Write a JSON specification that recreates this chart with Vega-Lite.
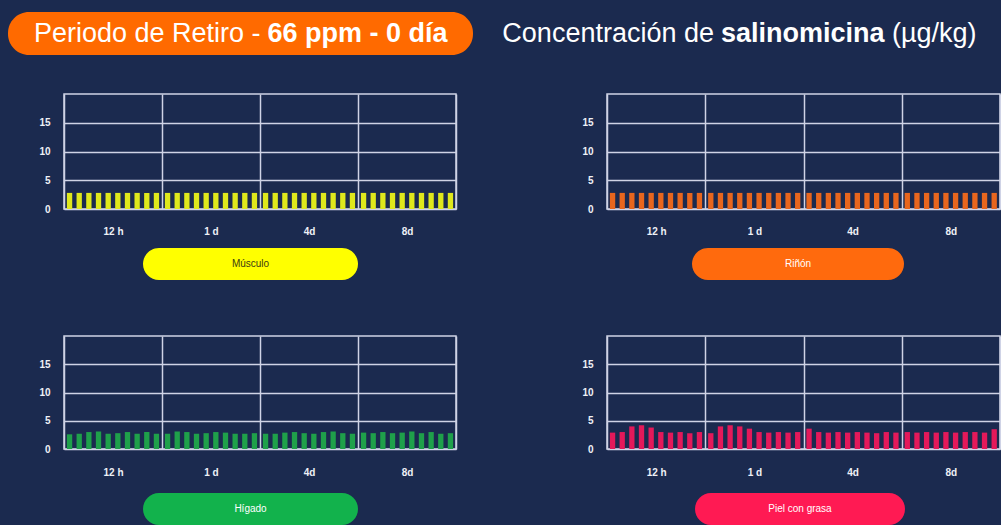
{
  "$schema": "https://vega.github.io/schema/vega-lite/v6.json",
  "background": "#1b2a4f",
  "padding": {"left": 8, "top": 12, "right": 0, "bottom": 0},
  "config": {"font": "Liberation Sans", "view": {"stroke": null}},
  "datasets": {
    "conc": [
      {"tejido":"Músculo","periodo":"12 h","muestra":1,"valor":2.8},{"tejido":"Músculo","periodo":"12 h","muestra":2,"valor":2.8},{"tejido":"Músculo","periodo":"12 h","muestra":3,"valor":2.8},{"tejido":"Músculo","periodo":"12 h","muestra":4,"valor":2.8},{"tejido":"Músculo","periodo":"12 h","muestra":5,"valor":2.8},{"tejido":"Músculo","periodo":"12 h","muestra":6,"valor":2.8},{"tejido":"Músculo","periodo":"12 h","muestra":7,"valor":2.8},{"tejido":"Músculo","periodo":"12 h","muestra":8,"valor":2.8},{"tejido":"Músculo","periodo":"12 h","muestra":9,"valor":2.8},{"tejido":"Músculo","periodo":"12 h","muestra":10,"valor":2.8},
      {"tejido":"Músculo","periodo":"1 d","muestra":1,"valor":2.8},{"tejido":"Músculo","periodo":"1 d","muestra":2,"valor":2.8},{"tejido":"Músculo","periodo":"1 d","muestra":3,"valor":2.8},{"tejido":"Músculo","periodo":"1 d","muestra":4,"valor":2.8},{"tejido":"Músculo","periodo":"1 d","muestra":5,"valor":2.8},{"tejido":"Músculo","periodo":"1 d","muestra":6,"valor":2.8},{"tejido":"Músculo","periodo":"1 d","muestra":7,"valor":2.8},{"tejido":"Músculo","periodo":"1 d","muestra":8,"valor":2.8},{"tejido":"Músculo","periodo":"1 d","muestra":9,"valor":2.8},{"tejido":"Músculo","periodo":"1 d","muestra":10,"valor":2.8},
      {"tejido":"Músculo","periodo":"4d","muestra":1,"valor":2.8},{"tejido":"Músculo","periodo":"4d","muestra":2,"valor":2.8},{"tejido":"Músculo","periodo":"4d","muestra":3,"valor":2.8},{"tejido":"Músculo","periodo":"4d","muestra":4,"valor":2.8},{"tejido":"Músculo","periodo":"4d","muestra":5,"valor":2.8},{"tejido":"Músculo","periodo":"4d","muestra":6,"valor":2.8},{"tejido":"Músculo","periodo":"4d","muestra":7,"valor":2.8},{"tejido":"Músculo","periodo":"4d","muestra":8,"valor":2.8},{"tejido":"Músculo","periodo":"4d","muestra":9,"valor":2.8},{"tejido":"Músculo","periodo":"4d","muestra":10,"valor":2.8},
      {"tejido":"Músculo","periodo":"8d","muestra":1,"valor":2.8},{"tejido":"Músculo","periodo":"8d","muestra":2,"valor":2.8},{"tejido":"Músculo","periodo":"8d","muestra":3,"valor":2.8},{"tejido":"Músculo","periodo":"8d","muestra":4,"valor":2.8},{"tejido":"Músculo","periodo":"8d","muestra":5,"valor":2.8},{"tejido":"Músculo","periodo":"8d","muestra":6,"valor":2.8},{"tejido":"Músculo","periodo":"8d","muestra":7,"valor":2.8},{"tejido":"Músculo","periodo":"8d","muestra":8,"valor":2.8},{"tejido":"Músculo","periodo":"8d","muestra":9,"valor":2.8},{"tejido":"Músculo","periodo":"8d","muestra":10,"valor":2.8},
      {"tejido":"Riñón","periodo":"12 h","muestra":1,"valor":2.8},{"tejido":"Riñón","periodo":"12 h","muestra":2,"valor":2.8},{"tejido":"Riñón","periodo":"12 h","muestra":3,"valor":2.8},{"tejido":"Riñón","periodo":"12 h","muestra":4,"valor":2.8},{"tejido":"Riñón","periodo":"12 h","muestra":5,"valor":2.8},{"tejido":"Riñón","periodo":"12 h","muestra":6,"valor":2.8},{"tejido":"Riñón","periodo":"12 h","muestra":7,"valor":2.8},{"tejido":"Riñón","periodo":"12 h","muestra":8,"valor":2.8},{"tejido":"Riñón","periodo":"12 h","muestra":9,"valor":2.8},{"tejido":"Riñón","periodo":"12 h","muestra":10,"valor":2.8},
      {"tejido":"Riñón","periodo":"1 d","muestra":1,"valor":2.8},{"tejido":"Riñón","periodo":"1 d","muestra":2,"valor":2.8},{"tejido":"Riñón","periodo":"1 d","muestra":3,"valor":2.8},{"tejido":"Riñón","periodo":"1 d","muestra":4,"valor":2.8},{"tejido":"Riñón","periodo":"1 d","muestra":5,"valor":2.8},{"tejido":"Riñón","periodo":"1 d","muestra":6,"valor":2.8},{"tejido":"Riñón","periodo":"1 d","muestra":7,"valor":2.8},{"tejido":"Riñón","periodo":"1 d","muestra":8,"valor":2.8},{"tejido":"Riñón","periodo":"1 d","muestra":9,"valor":2.8},{"tejido":"Riñón","periodo":"1 d","muestra":10,"valor":2.8},
      {"tejido":"Riñón","periodo":"4d","muestra":1,"valor":2.8},{"tejido":"Riñón","periodo":"4d","muestra":2,"valor":2.8},{"tejido":"Riñón","periodo":"4d","muestra":3,"valor":2.8},{"tejido":"Riñón","periodo":"4d","muestra":4,"valor":2.8},{"tejido":"Riñón","periodo":"4d","muestra":5,"valor":2.8},{"tejido":"Riñón","periodo":"4d","muestra":6,"valor":2.8},{"tejido":"Riñón","periodo":"4d","muestra":7,"valor":2.8},{"tejido":"Riñón","periodo":"4d","muestra":8,"valor":2.8},{"tejido":"Riñón","periodo":"4d","muestra":9,"valor":2.8},{"tejido":"Riñón","periodo":"4d","muestra":10,"valor":2.8},
      {"tejido":"Riñón","periodo":"8d","muestra":1,"valor":2.8},{"tejido":"Riñón","periodo":"8d","muestra":2,"valor":2.8},{"tejido":"Riñón","periodo":"8d","muestra":3,"valor":2.8},{"tejido":"Riñón","periodo":"8d","muestra":4,"valor":2.8},{"tejido":"Riñón","periodo":"8d","muestra":5,"valor":2.8},{"tejido":"Riñón","periodo":"8d","muestra":6,"valor":2.8},{"tejido":"Riñón","periodo":"8d","muestra":7,"valor":2.8},{"tejido":"Riñón","periodo":"8d","muestra":8,"valor":2.8},{"tejido":"Riñón","periodo":"8d","muestra":9,"valor":2.8},{"tejido":"Riñón","periodo":"8d","muestra":10,"valor":2.8},
      {"tejido":"Hígado","periodo":"12 h","muestra":1,"valor":2.6},{"tejido":"Hígado","periodo":"12 h","muestra":2,"valor":2.7},{"tejido":"Hígado","periodo":"12 h","muestra":3,"valor":3.0},{"tejido":"Hígado","periodo":"12 h","muestra":4,"valor":3.1},{"tejido":"Hígado","periodo":"12 h","muestra":5,"valor":2.7},{"tejido":"Hígado","periodo":"12 h","muestra":6,"valor":2.8},{"tejido":"Hígado","periodo":"12 h","muestra":7,"valor":3.0},{"tejido":"Hígado","periodo":"12 h","muestra":8,"valor":2.7},{"tejido":"Hígado","periodo":"12 h","muestra":9,"valor":3.0},{"tejido":"Hígado","periodo":"12 h","muestra":10,"valor":2.7},
      {"tejido":"Hígado","periodo":"1 d","muestra":1,"valor":2.7},{"tejido":"Hígado","periodo":"1 d","muestra":2,"valor":3.1},{"tejido":"Hígado","periodo":"1 d","muestra":3,"valor":3.0},{"tejido":"Hígado","periodo":"1 d","muestra":4,"valor":2.7},{"tejido":"Hígado","periodo":"1 d","muestra":5,"valor":2.8},{"tejido":"Hígado","periodo":"1 d","muestra":6,"valor":3.0},{"tejido":"Hígado","periodo":"1 d","muestra":7,"valor":2.9},{"tejido":"Hígado","periodo":"1 d","muestra":8,"valor":2.7},{"tejido":"Hígado","periodo":"1 d","muestra":9,"valor":2.7},{"tejido":"Hígado","periodo":"1 d","muestra":10,"valor":2.8},
      {"tejido":"Hígado","periodo":"4d","muestra":1,"valor":2.7},{"tejido":"Hígado","periodo":"4d","muestra":2,"valor":2.7},{"tejido":"Hígado","periodo":"4d","muestra":3,"valor":2.9},{"tejido":"Hígado","periodo":"4d","muestra":4,"valor":3.0},{"tejido":"Hígado","periodo":"4d","muestra":5,"valor":2.8},{"tejido":"Hígado","periodo":"4d","muestra":6,"valor":2.7},{"tejido":"Hígado","periodo":"4d","muestra":7,"valor":3.0},{"tejido":"Hígado","periodo":"4d","muestra":8,"valor":3.1},{"tejido":"Hígado","periodo":"4d","muestra":9,"valor":2.8},{"tejido":"Hígado","periodo":"4d","muestra":10,"valor":2.7},
      {"tejido":"Hígado","periodo":"8d","muestra":1,"valor":2.9},{"tejido":"Hígado","periodo":"8d","muestra":2,"valor":2.8},{"tejido":"Hígado","periodo":"8d","muestra":3,"valor":3.0},{"tejido":"Hígado","periodo":"8d","muestra":4,"valor":2.8},{"tejido":"Hígado","periodo":"8d","muestra":5,"valor":2.9},{"tejido":"Hígado","periodo":"8d","muestra":6,"valor":3.1},{"tejido":"Hígado","periodo":"8d","muestra":7,"valor":2.8},{"tejido":"Hígado","periodo":"8d","muestra":8,"valor":3.0},{"tejido":"Hígado","periodo":"8d","muestra":9,"valor":2.7},{"tejido":"Hígado","periodo":"8d","muestra":10,"valor":2.8},
      {"tejido":"Piel con grasa","periodo":"12 h","muestra":1,"valor":2.9},{"tejido":"Piel con grasa","periodo":"12 h","muestra":2,"valor":3.0},{"tejido":"Piel con grasa","periodo":"12 h","muestra":3,"valor":4.0},{"tejido":"Piel con grasa","periodo":"12 h","muestra":4,"valor":4.2},{"tejido":"Piel con grasa","periodo":"12 h","muestra":5,"valor":3.8},{"tejido":"Piel con grasa","periodo":"12 h","muestra":6,"valor":3.0},{"tejido":"Piel con grasa","periodo":"12 h","muestra":7,"valor":2.9},{"tejido":"Piel con grasa","periodo":"12 h","muestra":8,"valor":3.0},{"tejido":"Piel con grasa","periodo":"12 h","muestra":9,"valor":2.8},{"tejido":"Piel con grasa","periodo":"12 h","muestra":10,"valor":3.0},
      {"tejido":"Piel con grasa","periodo":"1 d","muestra":1,"valor":2.8},{"tejido":"Piel con grasa","periodo":"1 d","muestra":2,"valor":4.0},{"tejido":"Piel con grasa","periodo":"1 d","muestra":3,"valor":4.2},{"tejido":"Piel con grasa","periodo":"1 d","muestra":4,"valor":4.0},{"tejido":"Piel con grasa","periodo":"1 d","muestra":5,"valor":3.6},{"tejido":"Piel con grasa","periodo":"1 d","muestra":6,"valor":3.0},{"tejido":"Piel con grasa","periodo":"1 d","muestra":7,"valor":2.9},{"tejido":"Piel con grasa","periodo":"1 d","muestra":8,"valor":3.0},{"tejido":"Piel con grasa","periodo":"1 d","muestra":9,"valor":2.9},{"tejido":"Piel con grasa","periodo":"1 d","muestra":10,"valor":3.0},
      {"tejido":"Piel con grasa","periodo":"4d","muestra":1,"valor":3.6},{"tejido":"Piel con grasa","periodo":"4d","muestra":2,"valor":3.0},{"tejido":"Piel con grasa","periodo":"4d","muestra":3,"valor":2.9},{"tejido":"Piel con grasa","periodo":"4d","muestra":4,"valor":3.0},{"tejido":"Piel con grasa","periodo":"4d","muestra":5,"valor":2.9},{"tejido":"Piel con grasa","periodo":"4d","muestra":6,"valor":3.0},{"tejido":"Piel con grasa","periodo":"4d","muestra":7,"valor":2.9},{"tejido":"Piel con grasa","periodo":"4d","muestra":8,"valor":2.8},{"tejido":"Piel con grasa","periodo":"4d","muestra":9,"valor":3.0},{"tejido":"Piel con grasa","periodo":"4d","muestra":10,"valor":2.9},
      {"tejido":"Piel con grasa","periodo":"8d","muestra":1,"valor":3.0},{"tejido":"Piel con grasa","periodo":"8d","muestra":2,"valor":2.9},{"tejido":"Piel con grasa","periodo":"8d","muestra":3,"valor":3.0},{"tejido":"Piel con grasa","periodo":"8d","muestra":4,"valor":2.9},{"tejido":"Piel con grasa","periodo":"8d","muestra":5,"valor":3.0},{"tejido":"Piel con grasa","periodo":"8d","muestra":6,"valor":2.9},{"tejido":"Piel con grasa","periodo":"8d","muestra":7,"valor":3.0},{"tejido":"Piel con grasa","periodo":"8d","muestra":8,"valor":3.0},{"tejido":"Piel con grasa","periodo":"8d","muestra":9,"valor":2.9},{"tejido":"Piel con grasa","periodo":"8d","muestra":10,"valor":3.5}
    ]
  },
  "spacing": 38,
  "vconcat": [
    {
      "spacing": 27,
      "hconcat": [
        {
          "width": 465, "height": 43,
          "view": {"fill": "#ff6a00", "cornerRadius": 21, "stroke": null},
          "data": {"values": [{"parte1": "Periodo de Retiro -", "parte2": "66 ppm - 0 día"}]},
          "layer": [
            {"mark": {"type": "text", "fontSize": 27, "color": "#ffffff", "align": "right", "baseline": "middle", "dx": 20}, "encoding": {"text": {"field": "parte1"}}},
            {"mark": {"type": "text", "fontSize": 27, "fontWeight": "bold", "color": "#ffffff", "align": "left", "baseline": "middle", "dx": 27}, "encoding": {"text": {"field": "parte2"}}}
          ]
        },
        {
          "width": 480, "height": 43,
          "view": {"stroke": null},
          "data": {"values": [{"a": "Concentración de", "b": "salinomicina", "c": "(µg/kg)"}]},
          "layer": [
            {"mark": {"type": "text", "fontSize": 27, "color": "#ffffff", "align": "right", "baseline": "middle", "dx": -26}, "encoding": {"text": {"field": "a"}}},
            {"mark": {"type": "text", "fontSize": 27, "fontWeight": "bold", "color": "#ffffff", "align": "left", "baseline": "middle", "dx": -19}, "encoding": {"text": {"field": "b"}}},
            {"mark": {"type": "text", "fontSize": 27, "color": "#ffffff", "align": "left", "baseline": "middle", "dx": 152}, "encoding": {"text": {"field": "c"}}}
          ]
        }
      ]
    },
    {
      "spacing": 55,
      "vconcat": [
        {
          "spacing": 8,
          "vconcat": [
            {
              "spacing": 5,
              "hconcat": [
                {"width": 20, "height": 1, "data": {"values": []}, "mark": "point", "encoding": {}},
                {
                  "width": 392, "height": 115,
                  "view": {"stroke": "#cfd3e6", "strokeWidth": 1.5},
                  "data": {"name": "conc"},
                  "transform": [{"filter": "datum.tejido === 'Músculo'"}],
                  "mark": {"type": "bar", "color": "#dfe81c"},
                  "encoding": {
                    "x": {"field": "periodo", "type": "nominal", "sort": ["12 h", "1 d", "4d", "8d"], "scale": {"paddingInner": 0, "paddingOuter": 0}, "axis": {"title": null, "grid": true, "tickBand": "extent", "ticks": false, "domain": false, "labelAngle": 0, "labelPadding": 17, "labelFontWeight": "bold", "labelFontSize": 10, "labelColor": "#eef0f6", "gridColor": "#cfd3e6", "gridWidth": 1.5, "minExtent": 30, "maxExtent": 30}},
                    "xOffset": {"field": "muestra", "type": "ordinal", "scale": {"paddingInner": 0.45, "paddingOuter": 0.3}},
                    "y": {"field": "valor", "type": "quantitative", "scale": {"domain": [0, 20]}, "axis": {"title": null, "values": [0, 5, 10, 15], "ticks": false, "domain": false, "labelPadding": 14, "labelFontWeight": "bold", "labelFontSize": 10, "labelColor": "#eef0f6", "gridColor": "#cfd3e6", "gridWidth": 1.5, "minExtent": 30, "maxExtent": 30}}
                  }
                },
                {
                  "width": 393, "height": 115,
                  "view": {"stroke": "#cfd3e6", "strokeWidth": 1.5},
                  "data": {"name": "conc"},
                  "transform": [{"filter": "datum.tejido === 'Riñón'"}],
                  "mark": {"type": "bar", "color": "#e8661e"},
                  "encoding": {
                    "x": {"field": "periodo", "type": "nominal", "sort": ["12 h", "1 d", "4d", "8d"], "scale": {"paddingInner": 0, "paddingOuter": 0}, "axis": {"title": null, "grid": true, "tickBand": "extent", "ticks": false, "domain": false, "labelAngle": 0, "labelPadding": 17, "labelFontWeight": "bold", "labelFontSize": 10, "labelColor": "#eef0f6", "gridColor": "#cfd3e6", "gridWidth": 1.5, "minExtent": 30, "maxExtent": 30}},
                    "xOffset": {"field": "muestra", "type": "ordinal", "scale": {"paddingInner": 0.45, "paddingOuter": 0.3}},
                    "y": {"field": "valor", "type": "quantitative", "scale": {"domain": [0, 20]}, "axis": {"title": null, "values": [0, 5, 10, 15], "ticks": false, "domain": false, "labelPadding": 14, "labelFontWeight": "bold", "labelFontSize": 10, "labelColor": "#eef0f6", "gridColor": "#cfd3e6", "gridWidth": 1.5, "minExtent": 144, "maxExtent": 144}}
                  }
                }
              ]
            },
            {
              "spacing": 5,
              "hconcat": [
                {"width": 130, "height": 1, "data": {"values": []}, "mark": "point", "encoding": {}},
                {
                  "width": 215, "height": 32,
                  "view": {"fill": "#ffff00", "cornerRadius": 16, "stroke": null},
                  "data": {"values": [{"nombre": "Músculo"}]},
                  "mark": {"type": "text", "fontSize": 10, "color": "#3b3b12"},
                  "encoding": {"text": {"field": "nombre"}}
                },
                {
                  "width": 212, "height": 32,
                  "view": {"fill": "#ff6a0d", "cornerRadius": 16, "stroke": null},
                  "data": {"values": [{"nombre": "Riñón"}]},
                  "mark": {"type": "text", "fontSize": 10, "color": "#ffffff"},
                  "encoding": {
                    "text": {"field": "nombre"},
                    "y": {"field": "nombre", "type": "nominal", "axis": {"title": null, "labels": false, "ticks": false, "domain": false, "grid": false, "minExtent": 329, "maxExtent": 329}}
                  }
                }
              ]
            }
          ]
        },
        {
          "spacing": 13,
          "vconcat": [
            {
              "spacing": 5,
              "hconcat": [
                {"width": 20, "height": 1, "data": {"values": []}, "mark": "point", "encoding": {}},
                {
                  "width": 392, "height": 113,
                  "view": {"stroke": "#cfd3e6", "strokeWidth": 1.5},
                  "data": {"name": "conc"},
                  "transform": [{"filter": "datum.tejido === 'Hígado'"}],
                  "mark": {"type": "bar", "color": "#1fa04a"},
                  "encoding": {
                    "x": {"field": "periodo", "type": "nominal", "sort": ["12 h", "1 d", "4d", "8d"], "scale": {"paddingInner": 0, "paddingOuter": 0}, "axis": {"title": null, "grid": true, "tickBand": "extent", "ticks": false, "domain": false, "labelAngle": 0, "labelPadding": 18, "labelFontWeight": "bold", "labelFontSize": 10, "labelColor": "#eef0f6", "gridColor": "#cfd3e6", "gridWidth": 1.5, "minExtent": 30, "maxExtent": 30}},
                    "xOffset": {"field": "muestra", "type": "ordinal", "scale": {"paddingInner": 0.45, "paddingOuter": 0.3}},
                    "y": {"field": "valor", "type": "quantitative", "scale": {"domain": [0, 20]}, "axis": {"title": null, "values": [0, 5, 10, 15], "ticks": false, "domain": false, "labelPadding": 14, "labelFontWeight": "bold", "labelFontSize": 10, "labelColor": "#eef0f6", "gridColor": "#cfd3e6", "gridWidth": 1.5, "minExtent": 30, "maxExtent": 30}}
                  }
                },
                {
                  "width": 393, "height": 113,
                  "view": {"stroke": "#cfd3e6", "strokeWidth": 1.5},
                  "data": {"name": "conc"},
                  "transform": [{"filter": "datum.tejido === 'Piel con grasa'"}],
                  "mark": {"type": "bar", "color": "#e4195a"},
                  "encoding": {
                    "x": {"field": "periodo", "type": "nominal", "sort": ["12 h", "1 d", "4d", "8d"], "scale": {"paddingInner": 0, "paddingOuter": 0}, "axis": {"title": null, "grid": true, "tickBand": "extent", "ticks": false, "domain": false, "labelAngle": 0, "labelPadding": 18, "labelFontWeight": "bold", "labelFontSize": 10, "labelColor": "#eef0f6", "gridColor": "#cfd3e6", "gridWidth": 1.5, "minExtent": 30, "maxExtent": 30}},
                    "xOffset": {"field": "muestra", "type": "ordinal", "scale": {"paddingInner": 0.45, "paddingOuter": 0.3}},
                    "y": {"field": "valor", "type": "quantitative", "scale": {"domain": [0, 20]}, "axis": {"title": null, "values": [0, 5, 10, 15], "ticks": false, "domain": false, "labelPadding": 14, "labelFontWeight": "bold", "labelFontSize": 10, "labelColor": "#eef0f6", "gridColor": "#cfd3e6", "gridWidth": 1.5, "minExtent": 144, "maxExtent": 144}}
                  }
                }
              ]
            },
            {
              "spacing": 5,
              "hconcat": [
                {"width": 130, "height": 1, "data": {"values": []}, "mark": "point", "encoding": {}},
                {
                  "width": 215, "height": 32,
                  "view": {"fill": "#12b24c", "cornerRadius": 16, "stroke": null},
                  "data": {"values": [{"nombre": "Hígado"}]},
                  "mark": {"type": "text", "fontSize": 10, "color": "#ffffff"},
                  "encoding": {"text": {"field": "nombre"}}
                },
                {
                  "width": 210, "height": 32,
                  "view": {"fill": "#ff1a53", "cornerRadius": 16, "stroke": null},
                  "data": {"values": [{"nombre": "Piel con grasa"}]},
                  "mark": {"type": "text", "fontSize": 10, "color": "#ffffff"},
                  "encoding": {
                    "text": {"field": "nombre"},
                    "y": {"field": "nombre", "type": "nominal", "axis": {"title": null, "labels": false, "ticks": false, "domain": false, "grid": false, "minExtent": 332, "maxExtent": 332}}
                  }
                }
              ]
            }
          ]
        }
      ]
    }
  ]
}
